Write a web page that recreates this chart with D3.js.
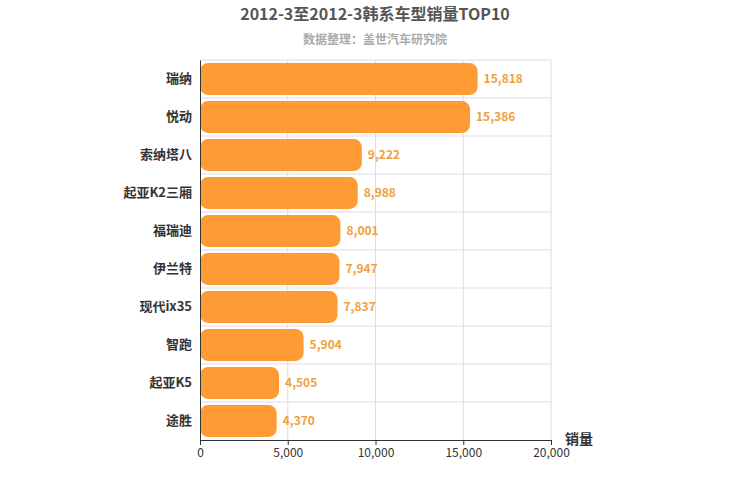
<!DOCTYPE html>
<html><head><meta charset="utf-8">
<script src="https://cdn.jsdelivr.net/npm/d3@7"></script>
<style>body{margin:0;background:#fff}text{font-family:"Noto Sans CJK SC",sans-serif}</style>
</head><body>
<svg id="chart" width="750" height="500"></svg>
<script>
const categories = ["瑞纳","悦动","索纳塔八","起亚K2三厢","福瑞迪","伊兰特","现代ix35","智跑","起亚K5","途胜"];
const values = [15818,15386,9222,8988,8001,7947,7837,5904,4505,4370];
const xTicks = [0,5000,10000,15000,20000];

const svg = d3.select("#chart");
const m = {left:200, right:551, top:60, bottom:440};
const x = d3.scaleLinear().domain([0,20000]).range([m.left,m.right]);
const y = d3.scaleBand().domain(categories).range([m.top,m.bottom]).paddingInner(0.16).paddingOuter(0.08);
const rows = d3.scaleBand().domain(categories).range([m.top,m.bottom]);

svg.append("text").attr("x",375).attr("y",20).attr("text-anchor","middle")
  .attr("font-size",16).attr("font-weight","bold").attr("fill","#555").text("2012-3至2012-3韩系车型销量TOP10");
svg.append("text").attr("x",375).attr("y",44).attr("text-anchor","middle")
  .attr("font-size",12).attr("font-weight","bold").attr("fill","#aaa").text("数据整理：盖世汽车研究院");

const grid = svg.append("g");
grid.selectAll("line.v").data(xTicks.slice(1)).join("line")
  .attr("x1",d=>x(d)).attr("x2",d=>x(d)).attr("y1",m.top).attr("y2",m.bottom).attr("stroke","#ddd");
grid.selectAll("line.h").data(categories).join("line")
  .attr("x1",m.left).attr("x2",m.right).attr("y1",d=>rows(d)).attr("y2",d=>rows(d)).attr("stroke","#ddd");

svg.selectAll("rect.bar").data(values).join("rect")
  .attr("x",x(0)).attr("y",(d,i)=>y(categories[i])).attr("width",d=>x(d)-x(0)).attr("height",y.bandwidth())
  .attr("rx",8).attr("fill","#ff9b35");
svg.selectAll("text.val").data(values).join("text")
  .attr("x",d=>x(d)+6).attr("y",(d,i)=>y(categories[i])+y.bandwidth()/2+4)
  .attr("font-size",12).attr("font-weight","bold").attr("fill","#f0a040").text(d3.format(","));

const ya = svg.append("g").attr("transform",`translate(${m.left},0)`)
  .call(d3.axisLeft(rows).tickSize(0).tickPadding(8));
ya.select(".domain").attr("stroke","#333");
ya.selectAll("text").attr("font-size",13).attr("font-weight","bold").attr("fill","#333");

const xa = svg.append("g").attr("transform",`translate(0,${m.bottom})`)
  .call(d3.axisBottom(x).tickValues(xTicks).tickFormat(d3.format(",")).tickSize(5));
xa.select(".domain").attr("stroke","#333");
xa.selectAll("line").attr("stroke","#333");
xa.selectAll("text").attr("font-size",12).attr("fill","#333").attr("font-family","Liberation Sans, sans-serif");

svg.append("text").attr("x",565).attr("y",444).attr("font-size",14).attr("font-weight","bold").attr("fill","#333").text("销量");
</script>
</body></html>
